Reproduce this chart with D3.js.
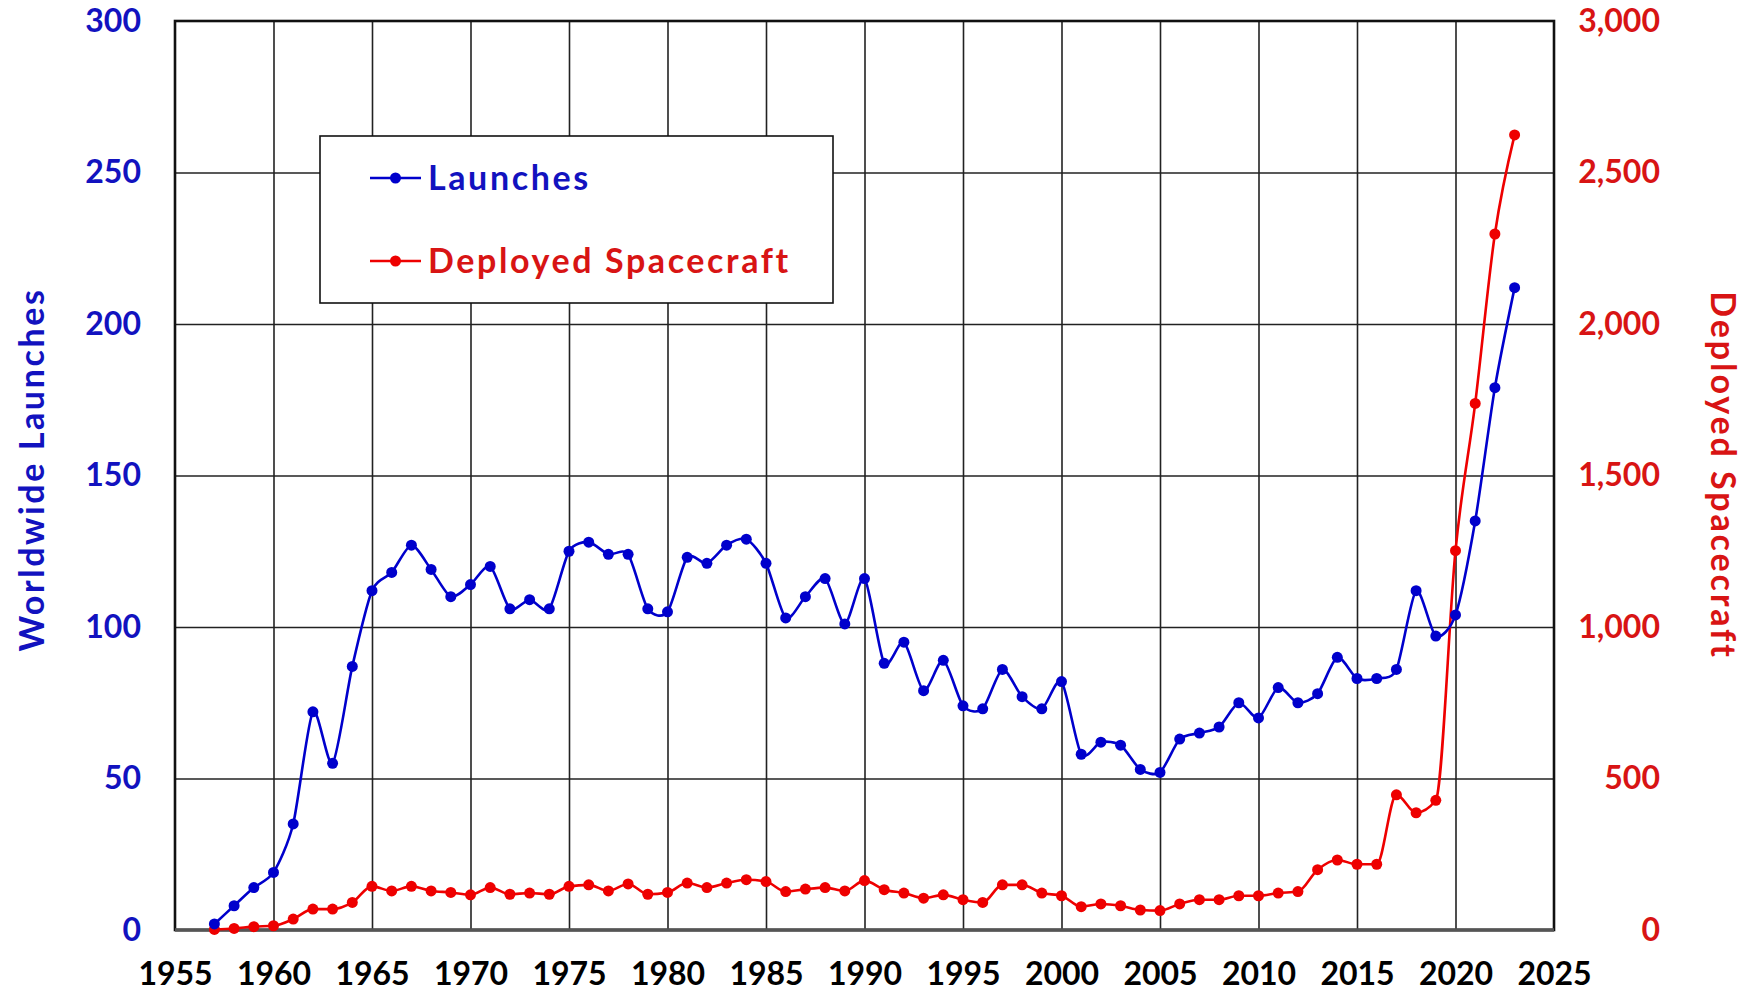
<!DOCTYPE html>
<html>
<head>
<meta charset="utf-8">
<script src="https://cdn.jsdelivr.net/npm/d3@7"></script>
<style>
body { margin: 0; background: #fff; }
text { font-family: Lato, "Open Sans", sans-serif; font-weight: bold; }
</style>
</head>
<body>
<script>
// years 1957 - 2023
var years = [1957,1958,1959,1960,1961,1962,1963,1964,1965,1966,1967,1968,1969,1970,
	1971,1972,1973,1974,1975,1976,1977,1978,1979,1980,1981,1982,1983,1984,1985,1986,
	1987,1988,1989,1990,1991,1992,1993,1994,1995,1996,1997,1998,1999,2000,2001,2002,
	2003,2004,2005,2006,2007,2008,2009,2010,2011,2012,2013,2014,2015,2016,2017,2018,
	2019,2020,2021,2022,2023];

var launches = [2,8,14,19,35,72,55,87,112,118,127,119,110,114,
	120,106,109,106,125,128,124,124,106,105,123,121,127,129,121,103,
	110,116,101,116,88,95,79,89,74,73,86,77,73,82,58,62,
	61,53,52,63,65,67,75,70,80,75,78,90,83,83,86,112,
	97,104,135,179,212];

var spacecraft = [2,5,11,14,36,69,69,91,144,129,144,129,124,116,
	140,118,122,118,144,149,129,152,118,124,155,140,155,166,160,127,
	135,140,129,163,133,122,105,116,100,91,149,149,122,113,77,86,
	80,66,64,86,100,100,113,113,122,127,199,231,217,217,446,387,
	428,1252,1738,2297,2624];

var xTicks = [1955,1960,1965,1970,1975,1980,1985,1990,1995,2000,2005,2010,2015,2020,2025];
var leftTicks = [0,50,100,150,200,250,300];
var rightTicks = [0,500,1000,1500,2000,2500,3000];

var legendNames = ["Launches", "Deployed Spacecraft"];

var W = 1747, H = 992;
var pL = 175, pR = 1554, pT = 21, pB = 930;
var blue = "#0000cc", blueText = "#1212bf";
var red = "#ee0000", redText = "#d81414";

var svg = d3.select("body").append("svg")
	.attr("width", W)
	.attr("height", H);

var x = d3.scaleLinear().domain([1955, 2025]).range([pL, pR]);
var yL = d3.scaleLinear().domain([0, 300]).range([pB, pT]);
var yR = d3.scaleLinear().domain([0, 3000]).range([pB, pT]);

// grid
svg.append("g")
	.attr("transform", "translate(0," + pB + ")")
	.call(d3.axisBottom(x).tickValues(xTicks.slice(1, -1)).tickSize(-(pB - pT)).tickFormat(""))
	.call(function(g){ g.select(".domain").remove(); })
	.selectAll("line").attr("stroke", "#222").attr("stroke-width", 1.6);

svg.append("g")
	.attr("transform", "translate(" + pL + ",0)")
	.call(d3.axisLeft(yL).tickValues(leftTicks.slice(1, -1)).tickSize(-(pR - pL)).tickFormat(""))
	.call(function(g){ g.select(".domain").remove(); })
	.selectAll("line").attr("stroke", "#222").attr("stroke-width", 1.6);

// frame
svg.append("rect")
	.attr("x", pL).attr("y", pT)
	.attr("width", pR - pL).attr("height", pB - pT)
	.attr("fill", "none")
	.attr("stroke", "#111")
	.attr("stroke-width", 2.6);
svg.append("line")
	.attr("x1", pL).attr("x2", pR)
	.attr("y1", pB).attr("y2", pB)
	.attr("stroke", "#555").attr("stroke-width", 3.5);

// tick labels
var gx = svg.append("g")
	.attr("transform", "translate(0," + pB + ")")
	.call(d3.axisBottom(x).tickValues(xTicks).tickSize(0).tickPadding(32).tickFormat(d3.format("d")));
gx.select(".domain").remove();
gx.selectAll("text").attr("fill", "#000").style("font-size", "32px");

var gl = svg.append("g")
	.attr("transform", "translate(" + pL + ",0)")
	.call(d3.axisLeft(yL).tickValues(leftTicks).tickSize(0).tickPadding(34));
gl.select(".domain").remove();
gl.selectAll("text").attr("fill", blueText).style("font-size", "32px");

var gr = svg.append("g")
	.attr("transform", "translate(" + (pR + 106) + ",0)")
	.call(d3.axisLeft(yR).tickValues(rightTicks).tickSize(0).tickPadding(0).tickFormat(d3.format(",")));
gr.select(".domain").remove();
gr.selectAll("text").attr("fill", redText).style("font-size", "32px");

// axis titles
svg.append("text")
	.attr("transform", "translate(44," + ((pT + pB) / 2 - 6) + ") rotate(-90)")
	.attr("text-anchor", "middle")
	.attr("fill", blueText)
	.style("font-size", "34px")
	.style("letter-spacing", "2.6px")
	.text("Worldwide Launches");

svg.append("text")
	.attr("transform", "translate(1711," + ((pT + pB) / 2) + ") rotate(90)")
	.attr("text-anchor", "middle")
	.attr("fill", redText)
	.style("font-size", "34px")
	.style("letter-spacing", "2.9px")
	.text("Deployed Spacecraft");

// legend
var lg = svg.append("g");
lg.append("rect")
	.attr("x", 320).attr("y", 136)
	.attr("width", 513).attr("height", 167)
	.attr("fill", "#fff")
	.attr("stroke", "#111")
	.attr("stroke-width", 1.6);

var legendColors = [blue, red];
var legendText = [blueText, redText];
legendNames.forEach(function(name, i){
	var ly = 178 + i * 83;
	lg.append("line")
		.attr("x1", 370).attr("x2", 421)
		.attr("y1", ly).attr("y2", ly)
		.attr("stroke", legendColors[i]).attr("stroke-width", 2.5);
	lg.append("circle")
		.attr("cx", 395.5).attr("cy", ly).attr("r", 5.5)
		.attr("fill", legendColors[i]);
	lg.append("text")
		.attr("x", 428).attr("y", ly)
		.attr("dy", "0.35em")
		.attr("fill", legendText[i])
		.style("font-size", "34px")
		.style("letter-spacing", "2.6px")
		.text(name);
});

// series
var lineL = d3.line()
	.x(function(d, i){ return x(years[i]); })
	.y(function(d){ return yL(d); })
	.curve(d3.curveCardinal.tension(0.25));

// monotone here so the 2019-2020 jump doesn't dip
var lineR = d3.line()
	.x(function(d, i){ return x(years[i]); })
	.y(function(d){ return yR(d); })
	.curve(d3.curveMonotoneX);

svg.append("path")
	.attr("d", lineR(spacecraft))
	.attr("fill", "none")
	.attr("stroke", red)
	.attr("stroke-width", 2.6);

svg.append("path")
	.attr("d", lineL(launches))
	.attr("fill", "none")
	.attr("stroke", blue)
	.attr("stroke-width", 2.6);

svg.selectAll("circle.sc")
	.data(spacecraft)
	.enter()
	.append("circle")
	.attr("class", "sc")
	.attr("cx", function(d, i){ return x(years[i]); })
	.attr("cy", function(d){ return yR(d); })
	.attr("r", 5.5)
	.attr("fill", red);

svg.selectAll("circle.la")
	.data(launches)
	.enter()
	.append("circle")
	.attr("class", "la")
	.attr("cx", function(d, i){ return x(years[i]); })
	.attr("cy", function(d){ return yL(d); })
	.attr("r", 5.5)
	.attr("fill", blue);
</script>
</body>
</html>
